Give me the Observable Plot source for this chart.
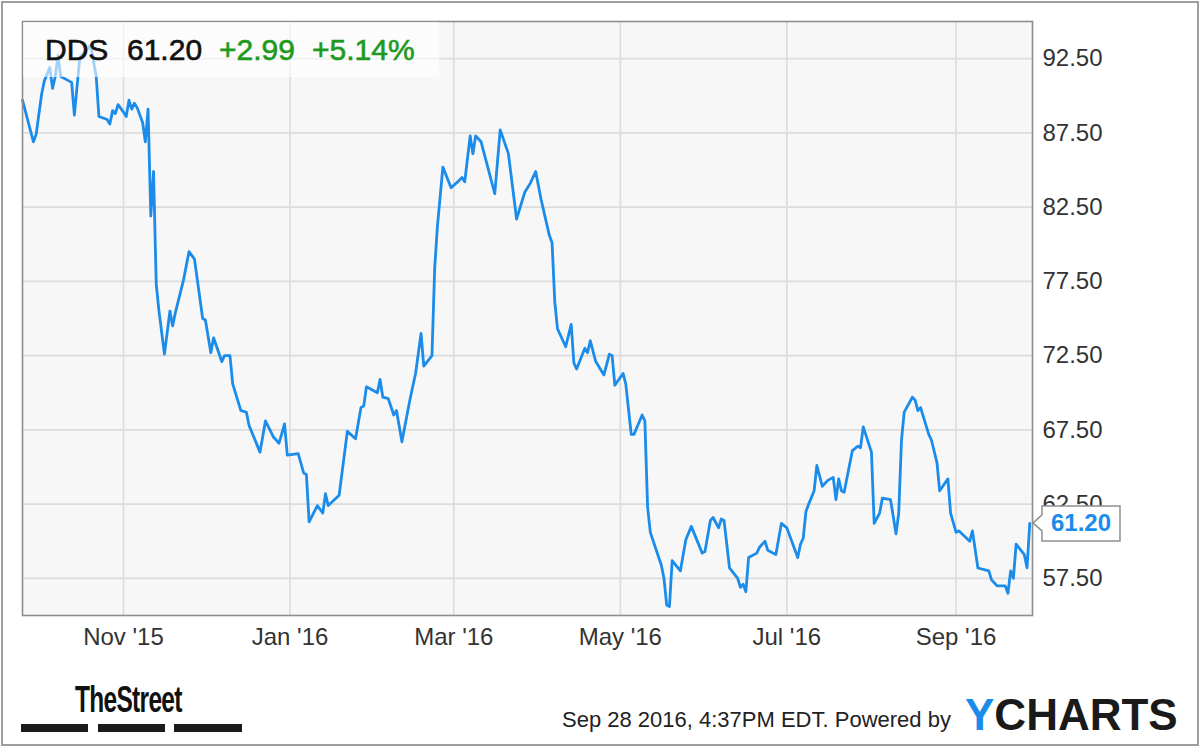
<!DOCTYPE html>
<html>
<head>
<meta charset="utf-8">
<script src="https://cdn.jsdelivr.net/npm/d3@7"></script>
<script src="https://cdn.jsdelivr.net/npm/@observablehq/plot@0.6"></script>
<style>
  html, body { margin: 0; padding: 0; background: #fff; }
  #wrap { position: relative; width: 1200px; height: 747px; overflow: hidden; font-family: "Liberation Sans", Arial, sans-serif; }
  #border { position: absolute; left: 1px; top: 1px; width: 1194px; height: 741px; border: 2px solid #9d9d9d; pointer-events: none; }
  #chart svg { display: block; }
</style>
</head>
<body>
<div id="wrap"><div id="chart"></div><div id="border"></div></div>
<script>
// ---- data ----
const ticker = "DDS";
const lastPrice = 61.20;
const change = 2.99;
const changePct = 5.14;
const stamp = "Sep 28 2016, 4:37PM EDT.";
const poweredBy = "Powered by";

const dates = [
  "2015-09-25","2015-09-29","2015-09-30","2015-10-02","2015-10-03","2015-10-05","2015-10-06","2015-10-07","2015-10-08","2015-10-09",
  "2015-10-13","2015-10-14","2015-10-16","2015-10-20","2015-10-22","2015-10-23","2015-10-26","2015-10-27","2015-10-28","2015-10-29",
  "2015-10-30","2015-11-01","2015-11-02","2015-11-03","2015-11-04","2015-11-05","2015-11-06","2015-11-08","2015-11-09","2015-11-10",
  "2015-11-11","2015-11-12","2015-11-13","2015-11-14","2015-11-16","2015-11-18","2015-11-19","2015-11-20","2015-11-23","2015-11-25",
  "2015-11-27","2015-11-30","2015-12-01","2015-12-03","2015-12-04","2015-12-07","2015-12-08","2015-12-10","2015-12-11","2015-12-14",
  "2015-12-16","2015-12-17","2015-12-21","2015-12-23","2015-12-26","2015-12-28","2015-12-30","2015-12-31","2016-01-04","2016-01-06",
  "2016-01-07","2016-01-08","2016-01-11","2016-01-13","2016-01-14","2016-01-15","2016-01-19","2016-01-22","2016-01-25","2016-01-27",
  "2016-01-28","2016-01-29","2016-02-02","2016-02-03","2016-02-04","2016-02-06","2016-02-08","2016-02-09","2016-02-11","2016-02-14",
  "2016-02-16","2016-02-18","2016-02-19","2016-02-22","2016-02-23","2016-02-24","2016-02-26","2016-02-29","2016-03-03","2016-03-04",
  "2016-03-05","2016-03-07","2016-03-08","2016-03-09","2016-03-11","2016-03-14","2016-03-16","2016-03-18","2016-03-21","2016-03-24",
  "2016-03-27","2016-03-29","2016-03-31","2016-04-02","2016-04-05","2016-04-06","2016-04-07","2016-04-08","2016-04-11","2016-04-13",
  "2016-04-14","2016-04-15","2016-04-18","2016-04-19","2016-04-20","2016-04-22","2016-04-25","2016-04-27","2016-04-28","2016-04-29",
  "2016-05-02","2016-05-03","2016-05-05","2016-05-06","2016-05-09","2016-05-10","2016-05-11","2016-05-12","2016-05-16","2016-05-17",
  "2016-05-18","2016-05-19","2016-05-20","2016-05-23","2016-05-25","2016-05-27","2016-05-31","2016-06-01","2016-06-03","2016-06-04",
  "2016-06-06","2016-06-07","2016-06-08","2016-06-10","2016-06-13","2016-06-14","2016-06-15","2016-06-16","2016-06-17","2016-06-20",
  "2016-06-21","2016-06-23","2016-06-24","2016-06-27","2016-06-29","2016-07-01","2016-07-05","2016-07-06","2016-07-07","2016-07-08",
  "2016-07-09","2016-07-11","2016-07-12","2016-07-14","2016-07-16","2016-07-18","2016-07-19","2016-07-20","2016-07-21","2016-07-22",
  "2016-07-25","2016-07-27","2016-07-28","2016-07-29","2016-08-01","2016-08-02","2016-08-04","2016-08-05","2016-08-08","2016-08-10",
  "2016-08-11","2016-08-12","2016-08-13","2016-08-16","2016-08-17","2016-08-18","2016-08-19","2016-08-22","2016-08-23","2016-08-25",
  "2016-08-26","2016-08-29","2016-08-30","2016-09-01","2016-09-02","2016-09-06","2016-09-07","2016-09-09","2016-09-13","2016-09-14",
  "2016-09-16","2016-09-19","2016-09-20","2016-09-21","2016-09-22","2016-09-23","2016-09-26","2016-09-27","2016-09-28"
];
const prices = [
  89.7,86.9,87.4,90.1,91.0,91.9,90.5,91.3,92.7,91.3,
  90.9,88.7,92.6,93.4,91.3,88.6,88.4,88.1,89.0,88.8,
  89.4,88.9,88.6,89.7,89.1,89.5,89.2,88.2,86.9,89.1,
  81.9,84.9,77.3,75.5,72.6,75.5,74.5,75.4,77.6,79.5,
  79.0,75.0,74.9,72.7,73.7,72.1,72.5,72.5,70.6,68.8,
  68.7,67.8,66.0,68.1,67.0,66.6,67.9,65.8,65.9,64.6,
  64.5,61.3,62.4,61.9,63.2,62.4,63.1,67.4,66.9,69.0,
  69.1,70.4,70.0,70.9,69.7,69.6,68.5,68.8,66.7,69.6,
  71.3,74.0,71.8,72.5,78.4,81.2,85.2,83.8,84.3,84.5,
  84.2,87.3,86.1,87.3,86.9,84.8,83.4,87.7,86.1,81.7,
  83.5,84.1,84.9,83.0,80.6,80.1,76.1,74.3,73.1,74.6,
  72.0,71.6,73.0,72.7,73.5,72.1,71.2,72.6,72.5,70.5,
  71.3,70.6,67.2,67.2,68.5,68.1,62.3,60.6,58.4,57.5,
  55.7,55.6,58.7,58.0,60.1,61.0,59.2,59.3,61.4,61.6,
  60.9,61.5,61.4,58.2,57.5,56.9,57.1,56.6,58.9,59.2,
  59.6,60.0,59.4,59.1,61.2,60.9,58.9,59.8,60.2,62.0,
  62.5,63.4,65.1,63.7,64.1,64.3,62.8,64.2,63.4,63.3,
  66.1,66.4,66.3,67.7,66.0,61.2,61.9,62.9,62.8,60.5,
  61.9,66.8,68.7,69.7,69.5,68.8,69.0,67.2,66.8,65.3,
  63.4,64.2,61.9,60.6,60.7,60.0,60.7,58.2,58.0,57.4,
  57.0,57.0,56.5,58.0,57.5,59.8,59.1,58.21,61.20
];
const yTicks = [57.5, 62.5, 67.5, 72.5, 77.5, 82.5, 87.5, 92.5];
const xTicks = ["2015-11-01","2016-01-01","2016-03-01","2016-05-01","2016-07-01","2016-09-01"];
const xDomain = ["2015-09-25","2016-09-29"];
const yDomain = [55, 95];

// ---- build ----
const parse = d3.utcParse("%Y-%m-%d");
const data = dates.map((d, i) => ({date: parse(d), price: prices[i]}));
const xTickDates = xTicks.map(parse);

const W = 1200, H = 747;
const mL = 22, mR = 168, mT = 21, mB = 132;
const blue = "#1b8cea";
const green = "#1d9a1d";
const font = "'Liberation Sans', Arial, Helvetica, sans-serif";

const chart = Plot.plot({
  width: W, height: H,
  marginLeft: mL, marginRight: mR, marginTop: mT, marginBottom: mB,
  style: {fontFamily: font, color: "#333", background: "#fff", overflow: "visible"},
  x: {type: "utc", domain: xDomain.map(parse)},
  y: {domain: yDomain},
  marks: [
    Plot.frame({fill: "#f7f7f7", stroke: null}),
    Plot.ruleY(yTicks, {stroke: "#dcdcdc", strokeWidth: 1.6}),
    Plot.ruleX(xTickDates, {stroke: "#dcdcdc", strokeWidth: 1.6}),
    Plot.lineY(data, {x: "date", y: "price", stroke: blue, strokeWidth: 2.8, strokeLinejoin: "round"}),
    Plot.frame({stroke: "#8e8e8e", strokeWidth: 1.6}),
    Plot.axisY(yTicks, {anchor: "right", tickSize: 0, tickPadding: 10, tickFormat: d3.format(".2f"), fontSize: 24, label: null, fill: "#333"}),
    Plot.axisX(xTickDates, {anchor: "bottom", tickSize: 0, tickPadding: 12, tickFormat: d3.utcFormat("%b '%y"), fontSize: 24, label: null, fill: "#333"})
  ]
});
document.getElementById("chart").appendChild(chart);

const svg = d3.select(chart);
const xs = chart.scale("x"), ys = chart.scale("y");
const last = data[data.length - 1];

// header box (semi-transparent) + quote text
svg.append("rect").attr("x", mL + 1).attr("y", mT + 1).attr("width", 416).attr("height", 55)
  .attr("fill", "#fff").attr("fill-opacity", 0.6);
const hdr = svg.append("text").attr("x", 45).attr("y", 60).attr("text-anchor", "start")
  .attr("font-family", font).attr("font-size", 30).attr("fill", "#111")
  .attr("stroke", "#111").attr("stroke-width", 0.6);
hdr.append("tspan").attr("x", 45).text(ticker);
hdr.append("tspan").attr("x", 127).text(lastPrice.toFixed(2));
hdr.append("tspan").attr("x", 219).attr("fill", green).attr("stroke", green).text("+" + change.toFixed(2));
hdr.append("tspan").attr("x", 312).attr("fill", green).attr("stroke", green).text("+" + changePct.toFixed(2) + "%");

// last-value callout, anchored through the scales
const tipX = W - mR;
const yc = ys.apply(last.price);
const bx = tipX + 10, bw = 78, bt = yc - 17, bb = yc + 18;
svg.append("path")
  .attr("d", `M${bx},${bt} H${bx + bw} V${bb} H${bx} V${yc + 8} L${tipX + 1},${yc} L${bx},${yc - 8} Z`)
  .attr("fill", "#fff").attr("stroke", "#8e8e8e").attr("stroke-width", 1.5);
svg.append("text").attr("x", bx + bw / 2).attr("y", yc + 8.5).attr("text-anchor", "middle")
  .attr("font-family", font).attr("font-size", 24).attr("font-weight", "bold").attr("fill", blue)
  .text(last.price.toFixed(2));

// footer: TheStreet logo
svg.append("text").attr("x", 75).attr("y", 712).attr("text-anchor", "start")
  .attr("font-family", font).attr("font-size", 36).attr("font-weight", "bold").attr("fill", "#111")
  .attr("transform", "translate(75,0) scale(0.68,1) translate(-75,0)")
  .attr("letter-spacing", -1).text("TheStreet");
[[21, 88], [98, 165], [174, 242]].forEach(([a, b]) =>
  svg.append("rect").attr("x", a).attr("y", 724).attr("width", b - a).attr("height", 8).attr("fill", "#1a1a1a"));

// footer: timestamp + YCHARTS
svg.append("text").attr("x", 562).attr("y", 727).attr("text-anchor", "start")
  .attr("font-family", font).attr("font-size", 22).attr("fill", "#222")
  .text(stamp + " " + poweredBy);
const yc2 = svg.append("text").attr("x", 965).attr("y", 730).attr("text-anchor", "start")
  .attr("font-family", font).attr("font-size", 44).attr("font-weight", "bold").attr("fill", "#1a1a1a");
yc2.append("tspan").attr("fill", blue).text("Y");
yc2.append("tspan").text("CHARTS");
</script>
</body>
</html>
